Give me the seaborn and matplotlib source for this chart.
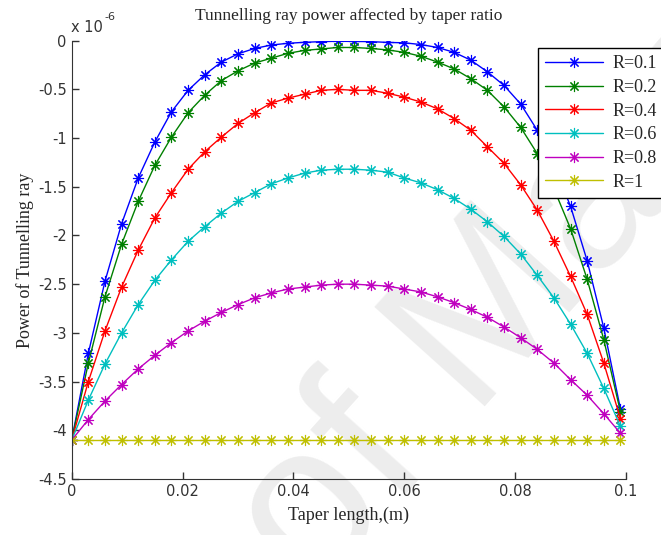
import matplotlib
matplotlib.use("Agg")
import matplotlib.pyplot as plt
import seaborn as sns
import pandas as pd

# taper length (m)
taper_len = [0.000, 0.003, 0.006, 0.009, 0.012, 0.015, 0.018, 0.021, 0.024, 0.027,
             0.030, 0.033, 0.036, 0.039, 0.042, 0.045, 0.048, 0.051, 0.054, 0.057,
             0.060, 0.063, 0.066, 0.069, 0.072, 0.075, 0.078, 0.081, 0.084, 0.087,
             0.090, 0.093, 0.096, 0.099]

# power of tunnelling ray, in units of 1e-6
p_r01 = [-4.10, -3.21, -2.47, -1.88, -1.41, -1.04, -0.73, -0.51, -0.35, -0.22,
         -0.135, -0.08, -0.045, -0.027, -0.017, -0.010, -0.006, -0.008, -0.010, -0.018,
         -0.022, -0.04, -0.07, -0.12, -0.20, -0.32, -0.46, -0.65, -0.92, -1.28,
         -1.70, -2.26, -2.95, -3.78]
p_r02 = [-4.10, -3.31, -2.63, -2.09, -1.65, -1.28, -0.99, -0.74, -0.56, -0.41,
         -0.31, -0.23, -0.18, -0.13, -0.10, -0.085, -0.07, -0.07, -0.08, -0.095,
         -0.12, -0.16, -0.22, -0.29, -0.39, -0.51, -0.68, -0.89, -1.16, -1.52,
         -1.93, -2.45, -3.07, -3.81]
p_r04 = [-4.10, -3.50, -2.98, -2.53, -2.15, -1.82, -1.56, -1.32, -1.14, -0.99,
         -0.85, -0.74, -0.64, -0.59, -0.55, -0.51, -0.50, -0.51, -0.51, -0.54,
         -0.58, -0.63, -0.70, -0.80, -0.92, -1.09, -1.26, -1.48, -1.74, -2.06,
         -2.42, -2.81, -3.31, -3.88]
p_r06 = [-4.10, -3.69, -3.32, -3.00, -2.71, -2.46, -2.25, -2.06, -1.91, -1.77,
         -1.65, -1.56, -1.47, -1.41, -1.36, -1.33, -1.32, -1.32, -1.33, -1.35,
         -1.41, -1.46, -1.53, -1.62, -1.73, -1.86, -2.01, -2.19, -2.41, -2.64,
         -2.91, -3.21, -3.57, -3.96]
p_r08 = [-4.10, -3.89, -3.70, -3.53, -3.37, -3.23, -3.10, -2.98, -2.88, -2.79,
         -2.71, -2.64, -2.59, -2.55, -2.53, -2.51, -2.50, -2.50, -2.51, -2.52,
         -2.55, -2.58, -2.63, -2.69, -2.76, -2.84, -2.94, -3.05, -3.17, -3.31,
         -3.48, -3.64, -3.83, -4.03]
p_r1 = [-4.10, -4.10, -4.10, -4.10, -4.10, -4.10, -4.10, -4.10, -4.10, -4.10,
        -4.10, -4.10, -4.10, -4.10, -4.10, -4.10, -4.10, -4.10, -4.10, -4.10,
        -4.10, -4.10, -4.10, -4.10, -4.10, -4.10, -4.10, -4.10, -4.10, -4.10,
        -4.10, -4.10, -4.10, -4.10]

ratios = ["R=0.1", "R=0.2", "R=0.4", "R=0.6", "R=0.8", "R=1"]
series = [p_r01, p_r02, p_r04, p_r06, p_r08, p_r1]
colors = ["#0000ff", "#008000", "#ff0000", "#00bfbf", "#bf00bf", "#bfbf00"]

x_ticks = [0, 0.02, 0.04, 0.06, 0.08, 0.1]
x_labels = ["0", "0.02", "0.04", "0.06", "0.08", "0.1"]
y_ticks = [0, -0.5, -1, -1.5, -2, -2.5, -3, -3.5, -4, -4.5]
y_labels = ["0", "-0.5", "-1", "-1.5", "-2", "-2.5", "-3", "-3.5", "-4", "-4.5"]

sns.set_style("ticks")
plt.rcParams["xtick.direction"] = "in"
plt.rcParams["ytick.direction"] = "in"

fig = plt.figure(figsize=(6.61, 5.35), dpi=100)
ax = fig.add_axes([0.1085, 0.1047, 0.8385, 0.8193])
ax.set_zorder(1)
ax.set_facecolor("none")

# faint watermark behind the plot
fig.text(0.475, -0.115, "of Malaya", rotation=48, rotation_mode="anchor",
         fontsize=155, color="#ededed", family="Liberation Sans",
         ha="left", va="baseline", zorder=-5)

for label, vals, col in zip(ratios, series, colors):
    df = pd.DataFrame({"x": taper_len, "p": vals})
    sns.lineplot(data=df, x="x", y="p", ax=ax, color=col, label=label,
                 marker=(8, 2, 0), markersize=8, markeredgecolor=col,
                 markeredgewidth=0.8, linewidth=1.0)

ax.set_xlim(0, 0.1)
ax.set_ylim(-4.5, 0)
ax.set_xticks(x_ticks)
ax.set_xticklabels(x_labels)
ax.set_yticks(y_ticks)
ax.set_yticklabels(y_labels)
ax.tick_params(labelsize=10.5, labelcolor="#333333", color="#333333", length=5, width=1)
for s in ["top", "right"]:
    ax.spines[s].set_visible(False)
for s in ["left", "bottom"]:
    ax.spines[s].set_color("#333333")

serif = "Liberation Serif"
ax.set_title("Tunnelling ray power affected by taper ratio", family=serif,
             fontsize=12.5, pad=15)
ax.set_xlabel("Taper length,(m)", family=serif, fontsize=13, labelpad=6)
ax.set_ylabel("Power of Tunnelling ray", family=serif, fontsize=13, labelpad=3)

fig.text(0.108, 0.940, "x 10", fontsize=10.5, color="#333333")
fig.text(0.158, 0.962, "-6", fontsize=8, color="#333333")

leg = ax.legend(loc="upper left", bbox_to_anchor=(0.814, 0.910),
                bbox_transform=fig.transFigure, prop={"family": serif, "size": 13},
                frameon=True, fancybox=False, framealpha=1, edgecolor="black",
                handlelength=3.2, labelspacing=0.37, borderpad=0.4,
                handletextpad=0.5, borderaxespad=0)
leg.get_frame().set_linewidth(1.0)

fig.savefig("out.png", dpi=100)
